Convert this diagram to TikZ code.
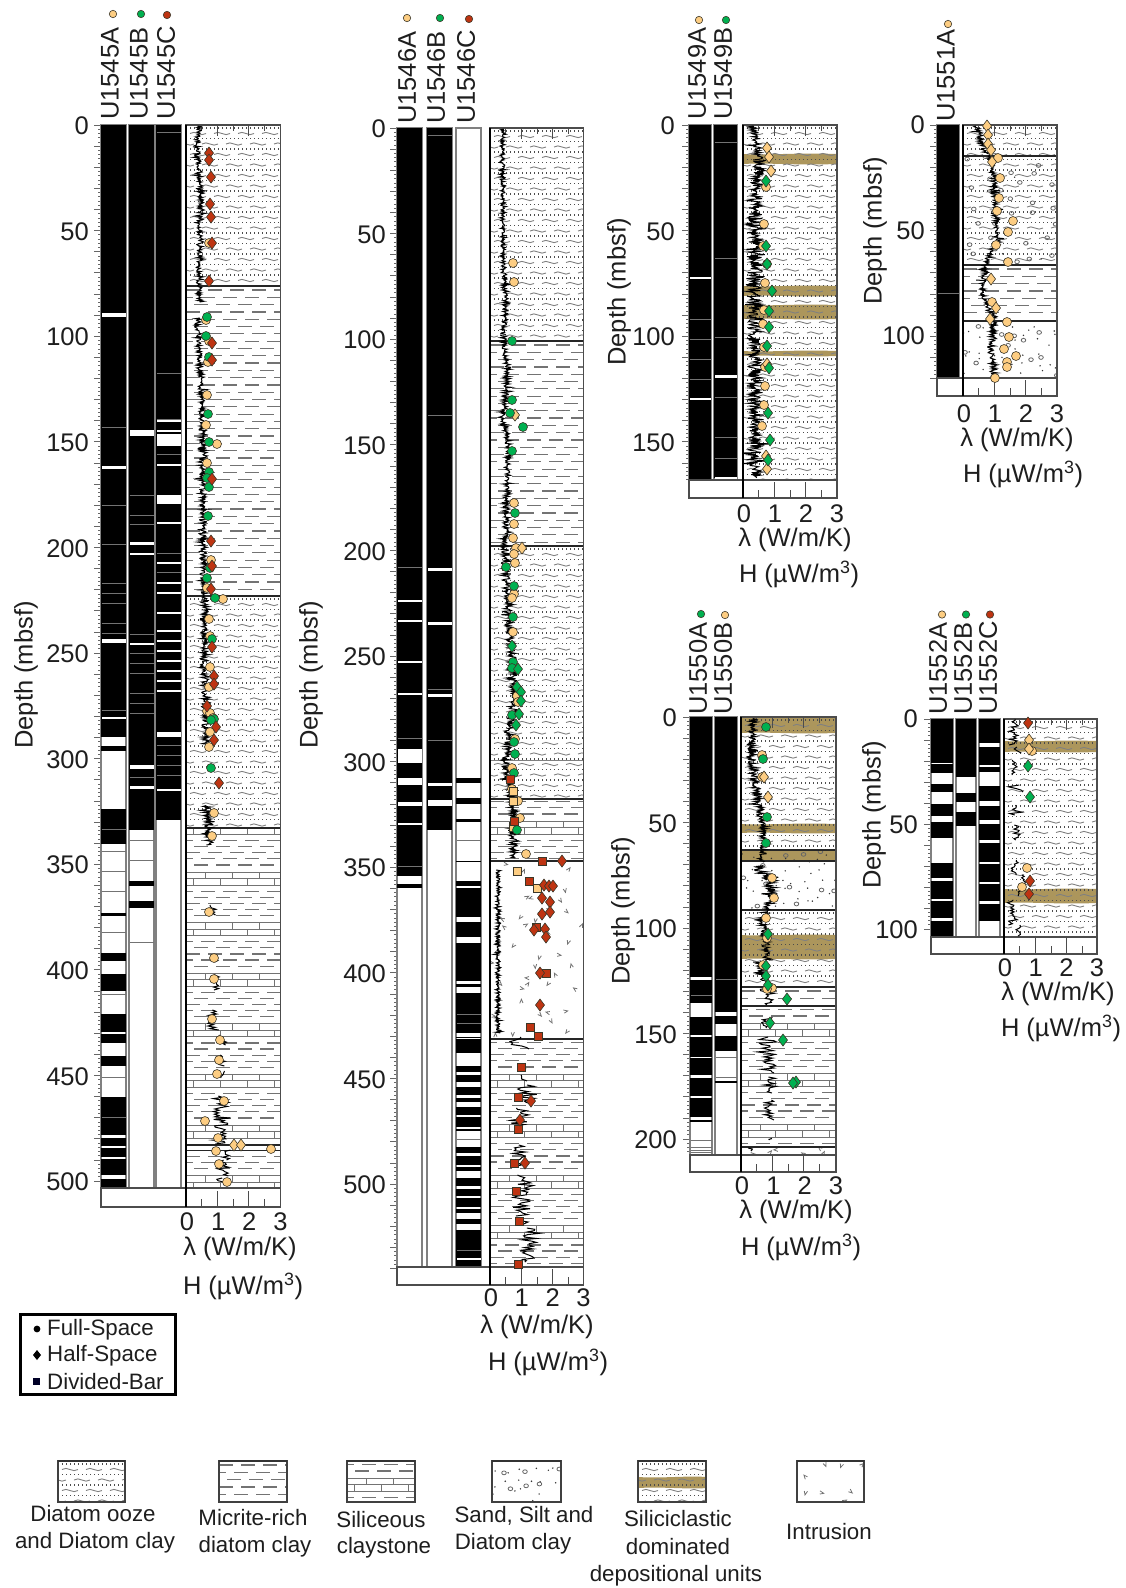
\documentclass[tikz,border=0pt]{standalone}
\usepackage{fontspec}
\setmainfont{Liberation Sans}
\definecolor{mkorange}{RGB}{253,205,130}
\definecolor{mkgreen}{RGB}{0,176,80}
\definecolor{mkred}{RGB}{190,52,18}
\definecolor{mkline}{RGB}{60,55,40}
\definecolor{bandtan}{RGB}{172,150,92}
\definecolor{txt}{RGB}{30,30,30}
\tikzset{
 lab/.style={font=\fontsize{25.5}{25.5}\selectfont,inner sep=0pt,text=txt},
 legtxt/.style={font=\fontsize{22.3}{22.3}\selectfont,inner sep=0pt,text=txt},
 mkO/.style={fill=mkorange,draw=mkline,line width=.6},
 mkG/.style={fill=mkgreen,draw=mkline,line width=.6},
 mkR/.style={fill=mkred,draw=mkline,line width=.6},
 colframe/.style={draw=black!50,line width=1.1},
 wavestroke/.style={draw=black!50,line width=.9},
 dotrow/.style={draw=black!70,line width=1.1,dash pattern=on 1pt off 3pt},
 dashrow/.style={draw=black!55,line width=1.2,dash pattern=on 14pt off 8pt},
 brick/.style={draw=black!55,line width=.9},
 unitline/.style={draw=black!85,line width=1.1},
 logline/.style={draw=black,line width=1},
 rulertick/.style={draw=black!60,line width=.7},
 frameline/.style={draw=black!70,line width=1.1},
}
% markers
\newcommand\cir[2]{\foreach \x/\y in {#2}{\draw[#1] (\x,\y) circle[radius=4.5];}}
\newcommand\dia[2]{\foreach \x/\y in {#2}{\draw[#1] (\x-4.5,\y) -- (\x,\y-6) -- (\x+4.5,\y) -- (\x,\y+6) -- cycle;}}
\newcommand\squ[2]{\foreach \x/\y in {#2}{\draw[#1] (\x-4,\y-4) rectangle (\x+4,\y+4);}}
% core columns
\newcommand\cframe[4]{\draw[colframe] (#1,#3) rectangle (#2,#4);}
\newcommand\bars[3]{\foreach \a/\b in {#3}{\fill[black] (#1,\a) rectangle (#2,\b);}}
\newcommand\wl[3]{\foreach \a/\b in {#3}{\fill[white] (#1+.5,\a) rectangle (#2-.5,\a+\b);}}
\newcommand\gl[3]{\foreach \a in {#3}{\draw[black!55,line width=1] (#1+.5,\a) -- (#2-.5,\a);}}
% ruler
\newcommand\ruler[4]{% xleft, ytop, scale, maxdepth
 \draw[rulertick] foreach \k in {0,2,...,#4} {(#1,#2+\k*#3) -- (#1-3.5,#2+\k*#3)};
 \draw[rulertick] foreach \k in {0,10,...,#4} {(#1,#2+\k*#3) -- (#1-7,#2+\k*#3)};
}
% lithology patterns
\newcommand\wavy[4]{\begin{scope}\clip (#1,#2) rectangle (#3,#4);
 \pgfmathtruncatemacro\nr{(#4-#2)/10.5}
 \foreach \i in {0,...,\nr}{
  \pgfmathsetmacro\yy{#2+3+10.5*\i}
  \pgfmathsetmacro\xs{#1-20+mod(\i,2)*12}
  \draw[dotrow] (#1,\yy) -- (#3,\yy);
  \draw[wavestroke] foreach \k in {0,...,5} {(\xs+24*\k,\yy+5.5) .. controls (\xs+24*\k+5,\yy+1.5) and (\xs+24*\k+11,\yy+9.5) .. (\xs+24*\k+16,\yy+5.5)};
 }\end{scope}}
\newcommand\micr[4]{\begin{scope}\clip (#1,#2) rectangle (#3,#4);
 \pgfmathtruncatemacro\nr{(#4-#2)/7.3}
 \foreach \i in {0,...,\nr}{
  \pgfmathsetmacro\yy{#2+4+7.3*\i}
  \pgfmathsetmacro\ph{mod(\i,3)*7}
  \draw[dashrow,dash phase=\ph pt] (#1,\yy) -- (#3,\yy);
 }\end{scope}}
\newcommand\clay[5]{\begin{scope}\clip (#1,#2) rectangle (#3,#4);% x0 y0 x1 y1 phase
 \pgfmathtruncatemacro\nr{(#4-#5)/50.6+1}
 \foreach \i in {-1,...,\nr}{
  \pgfmathsetmacro\bb{#5+50.6*\i}
  \draw[brick] (#1,\bb) -- (#3,\bb) (#1,\bb+6.5) -- (#3,\bb+6.5) (#1,\bb+13) -- (#3,\bb+13);
  \draw[brick] foreach \k in {0,...,3} {(#1+19+27*\k,\bb) -- (#1+19+27*\k,\bb+6.5) (#1+7+27*\k,\bb+6.5) -- (#1+7+27*\k,\bb+13)};
  \foreach \j in {1,...,5}{
   \pgfmathsetmacro\yy{\bb+13+6.1*\j}
   \pgfmathsetmacro\ph{mod(\j,3)*7}
   \draw[dashrow,dash phase=\ph pt] (#1,\yy) -- (#3,\yy);
  }
 }\end{scope}}
% evenly scattered marks: grid of cells, one jittered mark in each
\newcommand\scatter[6]{% x0 y0 x1 y1 n code(uses \px \py)
 \pgfmathsetmacro\cc{sqrt(#3-#1)*sqrt((#4-#2)/#5)}
 \pgfmathtruncatemacro\nx{max(1,round((#3-#1)/\cc))}
 \pgfmathtruncatemacro\ny{max(1,round((#4-#2)/\cc))}
 \foreach \ix in {1,...,\nx}{\foreach \iy in {1,...,\ny}{
  \pgfmathsetmacro\px{#1+(\ix-1+rnd)*(#3-#1)/\nx}
  \pgfmathsetmacro\py{#2+(\iy-1+rnd)*(#4-#2)/\ny}
  #6
 }}}
\newcommand\sandp[7]{% x0 y0 x1 y1 ndots ncircles seed
 \begin{scope}\clip (#1,#2) rectangle (#3,#4);
 \pgfmathsetseed{#7}
 \scatter{#1}{#2}{#3}{#4}{#5}{\fill[black!80] (\px,\py) circle[radius=.8];}
 \ifnum#6>0
 \scatter{#1}{#2}{#3}{#4}{#6}{\draw[black!60,line width=.8] (\px,\py) circle[x radius=2.3,y radius=1.9];}
 \fi
 \end{scope}}
\newcommand\intr[6]{% x0 y0 x1 y1 n seed
 \begin{scope}\clip (#1,#2) rectangle (#3,#4);
 \pgfmathsetseed{#6}
 \scatter{#1}{#2}{#3}{#4}{#5}{\pgfmathsetmacro\pa{rnd*360}\draw[black!55,line width=.8,shift={(\px,\py)},rotate=\pa] (-2.8,-1.2) -- (0,1.6) -- (0,-2.8);}
 \end{scope}}
\newcommand\band[4]{\fill[bandtan] (#1,#2) .. controls (#1+25,#2+1.5) and (#1+50,#2-1.5) .. (#3,#2) -- (#3,#4) .. controls (#1+50,#4+1.5) and (#1+25,#4-1.5) .. (#1,#4) -- cycle;}
% log curve
\def\logstep{0.65}
\newcommand\logc[1]{\foreach \yb/\xb/\ab [remember=\yb as \ya (initially -1),remember=\xb as \xa (initially 0)] in {#1}{%
  \ifdim\ya pt>0pt
   \pgfmathtruncatemacro\ns{max(4,abs(\yb-\ya)/\logstep)}
   \draw[logline] plot[samples=\ns,domain=0:1] ({\xa+(\xb-\xa)*\x+1.35*\ab*(rand+1.5*rand*rand*rand)},{\ya+(\yb-\ya)*\x});
  \fi}}
\newcommand\frag[3]{\begingroup\def\logstep{1.25}\foreach \f/\g/\h in {#3}{\logc{\f/#1/#2,\g/#1/#2}}\endgroup}
% axis frame: colLeft plotLeft plotRight top bottom boxbottom
\newcommand\plotframe[6]{
 \draw[frameline] (#2,#4) rectangle (#3,#5);
 \draw[frameline] (#1,#5) rectangle (#3,#6);
 \draw[black,line width=1.1] (#2,#4) -- (#2,#6);
 \draw[black!70,line width=.9] foreach \k in {0.5,1.5,2.5} {(#2+\k*31.4,#6) -- (#2+\k*31.4,#6-8)};
 \draw[black!70,line width=.9] foreach \k in {1,2} {(#2+\k*31.4,#6) -- (#2+\k*31.4,#6-16)};
 \draw[black!70,line width=.9] foreach \k in {0.5,1.5,2.5} {(#2+\k*31.4,#4) -- (#2+\k*31.4,#4+6)};
 \draw[black!70,line width=.9] foreach \k in {1,2} {(#2+\k*31.4,#4) -- (#2+\k*31.4,#4+11)};
}
\newcommand\xnums[3]{% plotLeft plotRight y
 \foreach \n in {0,1,2,3}{\node[lab] (xn#1n\n) at ({#1+1+\n*(#2-#1-1)/3},#3) {\n};}}
\newcommand\Hunit{H (µW/m\textsuperscript{3})}
\newcommand\lunit{λ (W/m/K)}
\begin{document}
\begin{tikzpicture}[x=1pt,y=-1pt]
\useasboundingbox (0,0) rectangle (1126,1588);
\fill[white] (0,0) rectangle (1126,1588);

%%%%%%%%%%%%%%%%%%%% 1545
\ruler{101}{125}{2.112}{500}
\cframe{101}{126}{125}{1188}\cframe{129}{154}{125}{1188}\cframe{156}{181}{125}{1188}
\bars{101}{126}{125/737,746/751,809/844,913/916,953/961,974/991,1014/1032,1034/1043,1056/1066,1097/1135,1138/1146,1148/1157,1159/1175,1179/1188}
\wl{101}{126}{313/3.5,466/3,639/4,717/2}
\gl{101}{126}{427,505,544,583,593,603,623,633,710,829,851,871,891,932,994,1077,1117}
\bars{129}{154}{125/830,881/886,901/908}
\wl{129}{154}{430/6,542/3,553/2,643/2,765/3.5,786/3}
\gl{129}{154}{495,515,524,634,653,663,673,693,703,713,777,840,860,942}
\bars{156}{181}{125/820}
\wl{156}{181}{420/2,430/2,434/11.5,464/2,495/8.5,522/2,562/2,582/2,592/2,612/2,630/2,640/2,650/2,660/2,670/2,680/2,690/2,732/5,789/2}
\gl{156}{181}{132,373,419,454,553,572,745,755,765,775}
\wavy{186}{125}{280.5}{286}
\micr{186}{286}{280.5}{596}
\wavy{186}{596}{280.5}{828}
\clay{186}{828}{280.5}{1188}{872}
\draw[unitline] (186,286) -- (280.5,286) (186,596) -- (280.5,596);
\draw[unitline,line width=1.6] (186,828) -- (280.5,828) (186,1145) -- (280.5,1145);
\draw[unitline,line width=.8] (186,1150) -- (280.5,1150);
\plotframe{101}{186}{280.5}{125}{1188}{1207}
\logc{126/199/2.2,150/197/2.2,190/201/2.2,230/200/2.2,290/199/2.2,302/200/2.2}
\logc{318/197/2,410/202/2.2,460/203/2.5,550/203/2.5,600/205/2.5,650/204/2.5,700/206/3,745/206/3}
\logc{805/207/3,845/209/3}
\frag{212}{2}{905/915/0}\frag{216}{2}{955/962/0}\frag{215}{3}{974/990/0}\frag{214}{5}{1010/1030/0}\frag{220}{4}{1035/1045/0}\frag{220}{4}{1055/1066/0}\frag{222}{2}{1071/1078/0}
\frag{221}{6}{1096/1144/0}\frag{226}{4}{1150/1160/0}\frag{224}{5}{1160/1176/0}\frag{215}{6}{1178/1182/0}
\cir{mkO}{209/243,206/320,209/341,208/362,207/395,206/425,217/444,207/463,211/560,207/588,223/599,209/619,210/636,210/667,209/687,207/711,210/713,213/718,210/732,209/747,214/813,212/836,209/912,214/958,214/979,212/1019,220/1040,219/1060,217/1074,224/1101,205/1121,218/1138,271/1149,216/1151,219/1164,227/1182}
\dia{mkO}{234/1145,241/1145}
\cir{mkG}{207/317,206/336,209/357,208/414,209/442,209/472,207/478,209/487,208/516,210/568,207/578,215/598,212/639,214/719,211/720,211/768}
\dia{mkR}{209/153,209/160,211/177,210/204,211/217,212/243,209/281,212/343,212/360,212/479,211/541,212/566,211/589,212/647,214/676,214/684,207/706,216/727,214/740,219/783}
\foreach \n/\x in {A/110,B/139,C/166}{\node[lab,rotate=90,anchor=west] (l1545\n) at (\x,120) {U1545\n};}
\draw[mkO] (113,14) circle[radius=3.7];\draw[mkG] (141,14) circle[radius=3.7];\draw[mkR] (167,15) circle[radius=3.7];
\foreach \v in {0,50,...,500}{\node[lab,anchor=east] (d1545v\v) at (89,{126+\v*2.112}) {\v};}
\node[lab,rotate=90] (depth1545) at (26,675) {Depth (mbsf)};
\xnums{186}{280.5}{1222}
\node[lab] (lam1545) at (240,1249) {\lunit};
\node[lab] (h1545) at (243,1286) {\Hunit};

%%%%%%%%%%%%%%%%%%%% 1546
\ruler{397}{128}{2.112}{540}
\cframe{397}{422}{128}{1267}\cframe{427}{452}{128}{1267}\cframe{456}{481}{128}{1267}
\bars{397}{422}{128/876,884/888}
\wl{397}{422}{600/2,620/2,661/2,693/2,749/14,778/7,802/4,823/2}
\gl{397}{422}{567,738,866}
\bars{427}{452}{128/830}
\wl{427}{452}{568/2.5,622/2.5,694/2.5,783/3,800/6}
\gl{427}{452}{135,415,689,740}
\bars{456}{481}{778/783,798/804,819/822,861/862,881/886,888/917,922/937,943/981,984/987,993/1033,1037/1038,1039/1053,1066/1072,1075/1082,1087/1095,1098/1102,1107/1115,1117/1127,1129/1131,1147/1153,1156/1165,1167/1171,1178/1186,1189/1196,1198/1207,1209/1213,1219/1224,1230/1267}
\wl{456}{481}{1258/2}
\gl{456}{481}{840,1014,1023,1139,1250}
\wavy{490}{128}{583.5}{341}
\micr{490}{341}{583.5}{546}
\wavy{490}{546}{583.5}{799}
\clay{490}{799}{583.5}{861}{821}
\intr{490}{861}{583.5}{1039}{42}{7}
\clay{490}{1039}{583.5}{1267}{821}
\draw[unitline] (490,341) -- (583.5,341) (490,546) -- (583.5,546) (490,799) -- (583.5,799);
\draw[unitline,line width=.6,draw=black!50] (490,760) -- (583.5,760);
\draw[unitline,line width=1.7] (490,861) -- (583.5,861) (490,1039) -- (583.5,1039);
\plotframe{397}{490}{583.5}{128}{1267}{1285}
\logc{129/502/1.8,200/503/1.8,260/503/1.8,300/506/2,335/503/2,370/508/2.2,420/503/2.2,450/510/2.2,480/507/2.2,550/505/2.5,600/507/3,650/511/3,700/514/3,745/508/3,775/506/3,800/512/3,835/514/3,858/513/3}
\logc{870/498/1.3,1033/498/1.5}
\frag{520}{6}{1037/1049/0}\frag{522}{5}{1066/1070/0}\frag{525}{3}{1075/1081/0}\frag{525}{6}{1085/1105/0}\frag{520}{6}{1108/1130/0}\frag{520}{5}{1145/1166/0}\frag{525}{6}{1175/1200/0}\frag{525}{6}{1200/1216/0}\frag{522}{5}{1218/1224/0}\frag{530}{5}{1228/1262/0}
\cir{mkO}{513/263,514/282,514/503,514/524,513/538,516/548,514/554,515/563,514/594,512/598,513/632,517/696,518/702,515/739,512/768,512/789,518/801,520/818,526/854}
\dia{mkO}{515/415,522/548}
\squ{mkO}{513/791,513/801,513/827,517/871,537/888}
\cir{mkG}{512/341,512/400,510/413,523/427,512/451,515/513,506/567,514/586,513/617,513/662,512/668,512/715,514/742,515/754,514/773,517/830}
\dia{mkG}{512/646,518/669,517/687,521/692,521/701,519/714,516/725}
\squ{mkR}{510/779,514/821,542/861,529/881,536/927,546/973,530/1027,538/1036,521/1067,518/1097,518/1129,514/1163,516/1191,519/1221,518/1264}
\dia{mkR}{562/861,544/885,549/886,553/886,542/898,550/902,542/914,550/912,534/930,545/929,546/937,540/973,540/1005,531/1101,520/1120,525/1163}
\foreach \n/\x in {A/407,B/436,C/466}{\node[lab,rotate=90,anchor=west] (l1546\n) at (\x,124) {U1546\n};}
\draw[mkO] (407,18) circle[radius=3.7];\draw[mkG] (440,18) circle[radius=3.7];\draw[mkR] (469,19) circle[radius=3.7];
\foreach \v in {0,50,...,500}{\node[lab,anchor=east] (d1546v\v) at (386,{129+\v*2.112}) {\v};}
\node[lab,rotate=90] (depth1546) at (311,675) {Depth (mbsf)};
\xnums{490}{583.5}{1298}
\node[lab] (lam1546) at (537,1327) {\lunit};
\node[lab] (h1546) at (548,1362) {\Hunit};

%%%%%%%%%%%%%%%%%%%% 1549
\ruler{689}{125}{2.112}{168}
\cframe{689}{711}{125}{480}\cframe{714}{737}{125}{480}
\bars{689}{711}{125/480}
\wl{689}{711}{277/2.2,398/2.2}
\gl{689}{711}{319,339,359,379}
\bars{714}{737}{125/478}
\wl{714}{737}{375/2.5,477/3}
\gl{714}{737}{142,258,337,397,437,458}
\band{743}{154}{837}{164}\band{743}{286}{837}{296}\band{743}{305}{837}{319}\band{743}{351}{837}{356}
\wavy{743}{125}{837}{480}
\plotframe{689}{743}{837}{125}{480}{498}
\logc{126/752/3.5,160/760/3.5,200/755/5,250/756/5,300/755/5,350/755/5,400/755/5,478/756/5}
\cir{mkO}{766/187,764/224,763/246,767/264,765/283,764/310,763/324,764/347,765/367,765/386,764/405,762/426}
\dia{mkO}{767/148,769/157,771/171,767/364,766/456,767/469}
\dia{mkG}{766/181,766/246,767/264,772/291,769/311,769/327,767/346,769/368,768/413,770/440,768/460}
\foreach \n/\x in {A/697,B/723}{\node[lab,rotate=90,anchor=west] (l1549\n) at (\x,120) {U1549\n};}
\draw[mkO] (699,20) circle[radius=3.7];\draw[mkG] (726,20) circle[radius=3.7];
\foreach \v in {0,50,100,150}{\node[lab,anchor=east] (d1549v\v) at (675,{126+\v*2.112}) {\v};}
\node[lab,rotate=90] (depth1549) at (619,292) {Depth (mbsf)};
\xnums{743}{837}{514}
\node[lab] (lam1549) at (795,540) {\lunit};
\node[lab] (h1549) at (799,574) {\Hunit};

%%%%%%%%%%%%%%%%%%%% 1551
\ruler{937}{125}{2.112}{120}
\cframe{937}{959}{125}{378}
\bars{937}{959}{125/378}
\gl{937}{959}{293}
\wavy{963}{125}{1057}{265}
\sandp{963}{156}{1057}{265}{4}{30}{21}
\micr{963}{265}{1057}{321}
\sandp{963}{321}{1057}{378}{40}{12}{5}
\draw[unitline] (963,156) -- (1057,156) (963,265) -- (1057,265) (963,321) -- (1057,321);
\plotframe{937}{963}{1057}{125}{378}{396}
\logc{126/976/2.5,150/985/2.5,165/993/2.5,200/995/2.5,240/998/2.5,262/987/2.5,280/982/2.5,300/985/2.5,320/995/2.5,350/990/2.5,377/995/2.5}
\cir{mkO}{998/158,1000/178,999/198,997/211,1013/221,1008/232,996/245,1008/262,992/302,1007/322,1009/337,1004/349,1016/356,1007/362,1007/367,995/378}
\dia{mkO}{987/126,988/135,988/144,991/150,992/162,991/279,996/308,990/319}
\node[lab,rotate=90,anchor=west] (l1551A) at (946,122) {U1551A};
\draw[mkO] (948,24) circle[radius=3.7];
\foreach \v in {0,50,100}{\node[lab,anchor=east] (d1551v\v) at (925,{125+\v*2.112}) {\v};}
\node[lab,rotate=90] (depth1551) at (875,231) {Depth (mbsf)};
\xnums{963}{1057}{414}
\node[lab] (lam1551) at (1017,440) {\lunit};
\node[lab] (h1551) at (1023,474) {\Hunit};

%%%%%%%%%%%%%%%%%%%% 1550
\ruler{690}{717}{2.11}{206}
\cframe{690}{712}{717}{1155}\cframe{715}{737}{717}{1155}
\bars{690}{712}{717/977,980/1003,1017/1035,1037/1057,1058/1075,1078/1096,1098/1117,1120/1122}
\gl{690}{712}{995,1140,1147,1150,1152}
\bars{715}{737}{717/1012,1016/1024,1036/1051,1081/1083}
\gl{715}{737}{979,1057,1077}
\band{741}{717}{836}{733}\band{741}{824}{836}{833}\band{741}{850}{836}{861}\band{741}{935}{836}{959}
\wavy{741}{717}{836}{850}
\sandp{741}{850}{836}{910}{45}{10}{3}
\wavy{741}{910}{836}{987}
\micr{741}{987}{836}{1006}
\clay{741}{1006}{836}{1147}{1023}
\intr{741}{1147}{836}{1155}{3}{4}
\draw[unitline] (741,850) -- (836,850) (741,861) -- (836,861) (741,910) -- (836,910) (741,987) -- (836,987);
\draw[unitline,line width=1.6] (741,1006) -- (836,1006) (741,1147) -- (836,1147);
\plotframe{690}{741}{836}{717}{1155}{1172}
\logc{718/753/2.5,760/752/3,800/758/3,840/765/3,862/762/3}
\logc{865/757/2,880/770/4,900/770/4,920/762/3,960/767/3}
\logc{962/757/3,985/767/3}
\def\logstep{1.2}
\logc{988/768/4,1005/768/5}
\logc{1017/767/5,1028/767/4}
\logc{1037/767/3,1073/768/5}
\logc{1077/770/4,1093/770/5}
\logc{1100/769/4,1120/769/4}
\logc{1138/770/2,1140/770/2}
\logc{1148/752/3,1151/752/3}
\def\logstep{0.65}
\cir{mkO}{762/755,762/777,772/878,774/898,766/918,767/938,763/965,772/988,767/989}
\dia{mkO}{764/777,768/797}
\cir{mkG}{766/727,763/759,767/817,766/843}
\dia{mkG}{768/934,766/966,766/976,768/985,787/999,770/1023,783/1040,796/1082,793/1083}
\foreach \n/\x in {A/698,B/723}{\node[lab,rotate=90,anchor=west] (l1550\n) at (\x,715) {U1550\n};}
\draw[mkG] (701,614) circle[radius=3.7];\draw[mkO] (725,615) circle[radius=3.7];
\foreach \v in {0,50,...,200}{\node[lab,anchor=east] (d1550v\v) at (677,{718+\v*2.11}) {\v};}
\node[lab,rotate=90] (depth1550) at (623,911) {Depth (mbsf)};
\xnums{741}{836}{1186}
\node[lab] (lam1550) at (796,1212) {\lunit};
\node[lab] (h1550) at (801,1247) {\Hunit};

%%%%%%%%%%%%%%%%%%%% 1552
\ruler{931}{719}{2.1}{100}
\cframe{931}{953}{719}{937}\cframe{956}{976}{719}{937}\cframe{979}{1000}{719}{937}
\bars{931}{953}{719/763,764/773,784/792,804/816,822/838,863/878,881/899,901/918,921/937}
\bars{956}{976}{719/777,793/802,812/826}
\bars{979}{1000}{719/743,747/765,767/772,786/801,806/820,824/840,843/862,864/882,884/901,904/921}
\band{1004}{741}{1097}{752}\band{1004}{889}{1097}{903}
\wavy{1004}{719}{1097}{937}
\plotframe{931}{1004}{1097}{719}{937}{954}
\frag{1013}{3}{719/745/0}\frag{1020}{4}{747/753/0}\frag{1013}{2.5}{760/775/0}\frag{1016}{4}{785/792/0}\frag{1016}{3}{805/815/0}\frag{1017}{3}{825/840/0}\frag{1015}{2.5}{860/875/0}\frag{1022}{4}{875/896/0}\frag{1012}{2.5}{900/925/0}\frag{1018}{2}{925/936/0}
\cir{mkO}{1032/751,1027/868,1022/887}
\dia{mkO}{1029/740,1029/749}
\dia{mkG}{1028/766,1030/797}
\dia{mkR}{1028/723,1030/881,1029/894}
\foreach \n/\x in {A/938,B/963,C/988}{\node[lab,rotate=90,anchor=west] (l1552\n) at (\x,715) {U1552\n};}
\draw[mkO] (942,614.5) circle[radius=3.7];\draw[mkG] (966,614.5) circle[radius=3.7];\draw[mkR] (990,614.5) circle[radius=3.7];
\foreach \v in {0,50,100}{\node[lab,anchor=east] (d1552v\v) at (918,{719+\v*2.11}) {\v};}
\node[lab,rotate=90] (depth1552) at (874,815) {Depth (mbsf)};
\xnums{1004}{1097}{968}
\node[lab] (lam1552) at (1058,994) {\lunit};
\node[lab] (h1552) at (1061,1028) {\Hunit};

%%%%%%%%%%%%%%%%%%%% method key
\draw[black,line width=3] (20,1314) rectangle (175,1394);
\fill[black] (37,1329) circle[radius=3.4];
\fill[black] (33,1355) -- (37,1350) -- (41,1355) -- (37,1360) -- cycle;
\fill[black!85!blue] (33,1378) rectangle (40,1385);
\node[legtxt,anchor=west] (kfull) at (47,1330) {Full-Space};
\node[legtxt,anchor=west] (khalf) at (47,1356) {Half-Space};
\node[legtxt,anchor=west] (kdiv) at (47,1382) {Divided-Bar};

%%%%%%%%%%%%%%%%%%%% lithology key
\wavy{58}{1461}{125}{1502}
\micr{219}{1461}{287}{1502}
\clay{347}{1461}{415}{1502}{1478}
\sandp{492}{1461}{561}{1502}{20}{6}{9}
\band{638}{1477}{706}{1488}
\wavy{638}{1461}{706}{1502}
\intr{797}{1461}{864}{1502}{9}{15}
\foreach \a/\b in {58/125,219/287,347/415,492/561,638/706,797/864}{\draw[black!75,line width=1.1] (\a,1461) rectangle (\b,1502);\draw[black!80,line width=1.6] (\a,1461) -- (\b,1461);}
\node[legtxt] (t1a) at (93,1514) {Diatom ooze};
\node[legtxt] (t1b) at (95,1543) {and Diatom clay};
\node[legtxt] (t2a) at (253,1518) {Micrite-rich};
\node[legtxt] (t2b) at (255,1547) {diatom clay};
\node[legtxt] (t3a) at (381,1520) {Siliceous};
\node[legtxt] (t3b) at (384,1548) {claystone};
\node[legtxt] (t4a) at (524,1516) {Sand, Silt and};
\node[legtxt] (t4b) at (513,1544) {Diatom clay};
\node[legtxt] (t5a) at (678,1519) {Siliciclastic};
\node[legtxt] (t5b) at (678,1547) {dominated};
\node[legtxt] (t5c) at (676,1576) {depositional units};
\node[legtxt] (t6) at (829,1532) {Intrusion};
\end{tikzpicture}
\end{document}
